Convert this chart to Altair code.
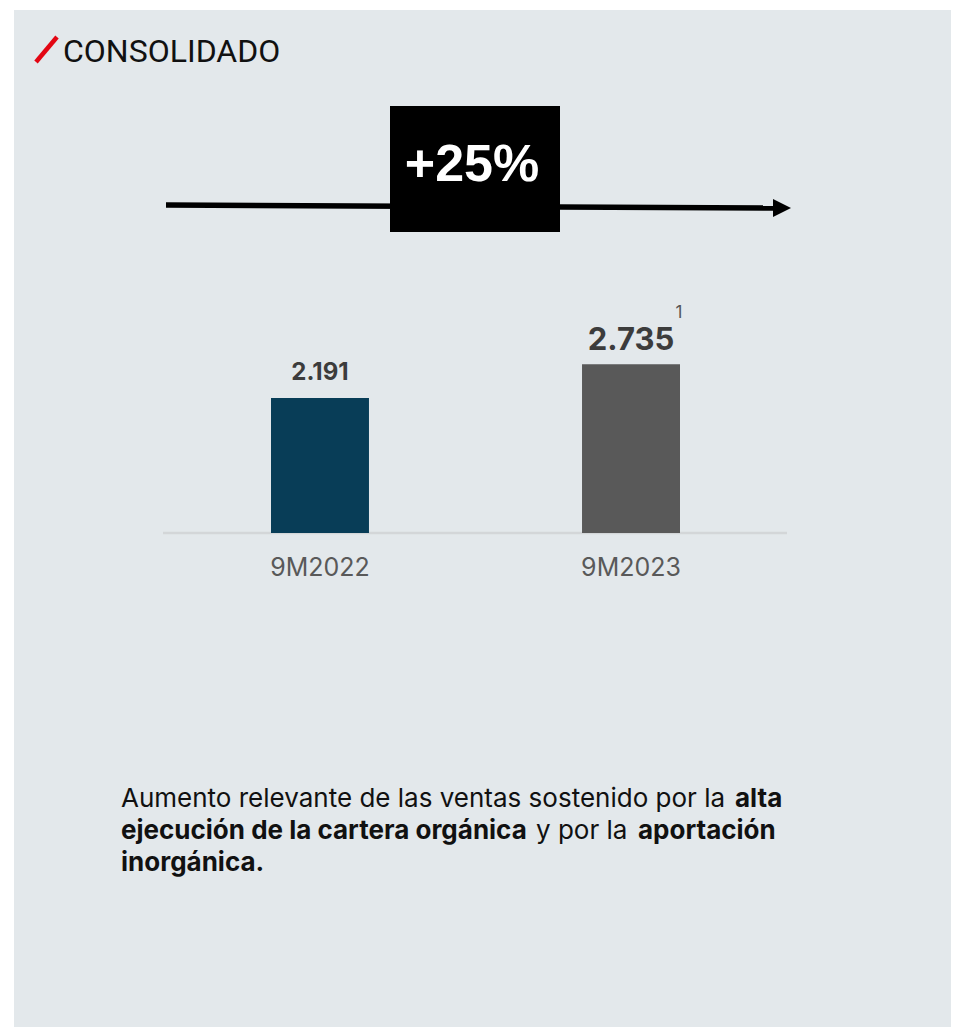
import altair as alt
import pandas as pd

# ---- data ----
categories = ["9M2022", "9M2023"]
values = [2191, 2735]
value_labels = ["2.191", "2.735"]
bar_colors = ["#083d57", "#595959"]
change_label = ["+25%"]
title_text = ["CONSOLIDADO"]
footnote = ["1"]
body_regular = [
    ("Aumento relevante de las ventas sostenido por la", 113, 799),
    ("y por la", 528, 831),
]
body_bold = [
    ("alta", 727, 799),
    ("ejecución de la cartera orgánica", 113, 831),
    ("aportación", 630, 831),
    ("inorgánica.", 113, 863),
]

W, H = 943, 1019
FONT = "Inter"
BODY_SIZE = 26

bars_df = pd.DataFrame({"cat": categories, "value": values, "label": value_labels})
one = pd.DataFrame({"k": [0]})

xscale = alt.Scale(domain=categories, range=[263, 672], paddingInner=0.685, paddingOuter=0)
yscale = alt.Scale(domain=[0, 3000], range=[525, 340])

panel = alt.Chart(one).mark_rect(color="#e3e8eb").encode(
    x=alt.value(6), x2=alt.value(W), y=alt.value(2), y2=alt.value(H)
)

arrow_line = alt.Chart(one).mark_rule(color="#000000", strokeWidth=5.5).encode(
    x=alt.value(158), x2=alt.value(770), y=alt.value(197), y2=alt.value(200)
)
arrow_head = alt.Chart(one).mark_point(
    shape="M-1,-1L1,0L-1,1Z", filled=True, color="#000000", opacity=1, size=324, strokeWidth=0
).encode(x=alt.value(774), y=alt.value(200))

box = alt.Chart(one).mark_rect(color="#000000").encode(
    x=alt.value(382), x2=alt.value(552), y=alt.value(98), y2=alt.value(224)
)
box_text = alt.Chart(pd.DataFrame({"t": change_label})).mark_text(
    font="Liberation Sans", fontWeight="bold", fontSize=52, color="#ffffff",
    align="center", baseline="alphabetic"
).encode(x=alt.value(464), y=alt.value(173), text="t:N")

slash = alt.Chart(one).mark_rule(color="#e30613", strokeWidth=4.5).encode(
    x=alt.value(28), x2=alt.value(49), y=alt.value(54), y2=alt.value(29)
)
title = alt.Chart(pd.DataFrame({"t": title_text})).mark_text(
    font="Roboto", fontSize=32, color="#111111", align="left", baseline="alphabetic"
).encode(x=alt.value(55), y=alt.value(54), text="t:N")

axis_rule = alt.Chart(pd.DataFrame({"zero": [0]})).mark_rule(color="#d3d6d8", strokeWidth=2.5).encode(
    x=alt.value(155), x2=alt.value(779), y=alt.Y("zero:Q", scale=yscale, axis=None)
)

bars = alt.Chart(bars_df).mark_bar().encode(
    x=alt.X("cat:N", scale=xscale, axis=None),
    y=alt.Y("value:Q", scale=yscale, axis=None),
    color=alt.Color("cat:N", scale=alt.Scale(domain=categories, range=bar_colors), legend=None),
)

lab1 = alt.Chart(bars_df).transform_filter(alt.datum.cat == categories[0]).mark_text(
    font=FONT, fontWeight="bold", fontSize=24, color="#3c3c3c", align="center",
    baseline="alphabetic", dy=-18
).encode(x=alt.X("cat:N", scale=xscale, axis=None), y=alt.Y("value:Q", scale=yscale, axis=None), text="label:N")

lab2 = alt.Chart(bars_df).transform_filter(alt.datum.cat == categories[1]).mark_text(
    font=FONT, fontWeight="bold", fontSize=31, color="#3c3c3c", align="center",
    baseline="alphabetic", dy=-14
).encode(x=alt.X("cat:N", scale=xscale, axis=None), y=alt.Y("value:Q", scale=yscale, axis=None), text="label:N")

foot = alt.Chart(bars_df.assign(fn=footnote * len(bars_df))).transform_filter(
    alt.datum.cat == categories[1]
).mark_text(
    font=FONT, fontSize=17, color="#555555", align="center", baseline="alphabetic", dx=48, dy=-46
).encode(x=alt.X("cat:N", scale=xscale, axis=None), y=alt.Y("value:Q", scale=yscale, axis=None), text="fn:N")

cat_labels = alt.Chart(bars_df).mark_text(
    font=FONT, fontSize=25, color="#595959", align="center", baseline="alphabetic"
).encode(x=alt.X("cat:N", scale=xscale, axis=None), y=alt.value(568), text="cat:N")

body_layers = []
for txt, bx, by in body_regular:
    body_layers.append(
        alt.Chart(pd.DataFrame({"t": [txt]})).mark_text(
            font=FONT, fontSize=BODY_SIZE, color="#111111", align="left", baseline="alphabetic"
        ).encode(x=alt.value(bx), y=alt.value(by), text="t:N")
    )
for txt, bx, by in body_bold:
    body_layers.append(
        alt.Chart(pd.DataFrame({"t": [txt]})).mark_text(
            font=FONT, fontSize=BODY_SIZE, fontWeight="bold", color="#111111", align="left", baseline="alphabetic"
        ).encode(x=alt.value(bx), y=alt.value(by), text="t:N")
    )

chart = alt.layer(
    panel, arrow_line, arrow_head, box, box_text, slash, title,
    axis_rule, bars, lab1, lab2, foot, cat_labels, *body_layers
).properties(
    width=W, height=H, autosize=alt.AutoSizeParams(type="none"), padding=0,
    background="#ffffff"
).configure_view(stroke=None)

chart.save("out.html", embed_options={"renderer": "svg", "actions": False})
